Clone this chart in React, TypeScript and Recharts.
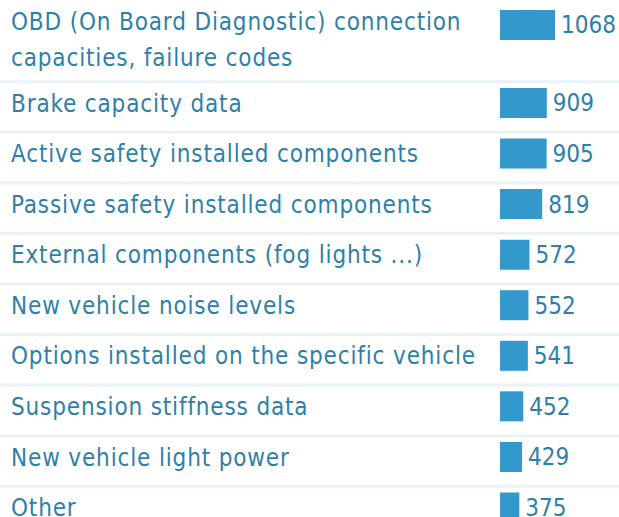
import React from "react";
import { BarChart, Bar, XAxis, YAxis, LabelList } from "recharts";

const categories = [
  "OBD (On Board Diagnostic) connection capacities, failure codes",
  "Brake capacity data",
  "Active safety installed components",
  "Passive safety installed components",
  "External components (fog lights ...)",
  "New vehicle noise levels",
  "Options installed on the specific vehicle",
  "Suspension stiffness data",
  "New vehicle light power",
  "Other",
];
const counts = [1068, 909, 905, 819, 572, 552, 541, 452, 429, 375];

const rows = categories.map((name, i) => ({ name, value: counts[i] }));
const firstRows = rows.slice(0, 1);
const otherRows = rows.slice(1);

const W = 619;
const FONT = "'DejaVu Sans Condensed', 'DejaVu Sans', sans-serif";
const TEXT = "#2e7fa9";
const BAR = "#3399cc";
const SEP = "#eaf2f8";
const FS = 24;
const LS = 0.85;
const DOMAIN: [number, number] = [0, 2310];

const textStyle: React.CSSProperties = { fontStretch: "condensed" };

function wrap(s: string, max: number): string[] {
  const words = s.split(" ");
  const lines: string[] = [];
  let cur = "";
  for (const w of words) {
    const t = cur ? cur + " " + w : w;
    if (t.length > max && cur) {
      lines.push(cur);
      cur = w;
    } else cur = t;
  }
  if (cur) lines.push(cur);
  return lines;
}

const FirstTick = (props: any) => {
  const { y, payload } = props;
  const lines = wrap(String(payload.value), 37);
  return (
    <g>
      {lines.map((l, i) => (
        <text key={i} x={11} y={y - 3 + i * 36} dy="0.35em" fill={TEXT} fontSize={FS} fontFamily={FONT} letterSpacing={LS} style={textStyle}>
          {l}
        </text>
      ))}
    </g>
  );
};

const RowTick = (props: any) => {
  const { y, payload } = props;
  return (
    <g>
      <line x1={0} x2={W} y1={y - 21.5} y2={y - 21.5} stroke={SEP} strokeWidth={3} />
      <text x={11} y={y} dy="0.35em" fill={TEXT} fontSize={FS} fontFamily={FONT} letterSpacing={LS} style={textStyle}>
        {payload.value}
      </text>
    </g>
  );
};

const ValueLabel = (props: any) => {
  const { x, y, width, height, value } = props;
  return (
    <text x={x + width + 6} y={y + height / 2} dy="0.35em" fill={TEXT} fontSize={FS} fontFamily={FONT} letterSpacing={0} style={textStyle}>
      {value}
    </text>
  );
};

export default function App() {
  return (
    <div style={{ position: "absolute", left: 0, top: 0, width: W, height: 517, overflow: "hidden", background: "#fff" }}>
      <div style={{ position: "absolute", left: 0, top: 0 }}>
        <BarChart width={W} height={78} data={firstRows} layout="vertical" margin={{ top: 0, right: 0, bottom: 28, left: 0 }} barCategoryGap={0}>
          <XAxis type="number" domain={DOMAIN} hide />
          <YAxis type="category" dataKey="name" width={500} axisLine={false} tickLine={false} tick={<FirstTick />} interval={0} />
          <Bar dataKey="value" fill={BAR} barSize={30} isAnimationActive={false}>
            <LabelList dataKey="value" content={<ValueLabel />} />
          </Bar>
        </BarChart>
      </div>
      <div style={{ position: "absolute", left: 0, top: 78 }}>
        <BarChart width={W} height={455} data={otherRows} layout="vertical" margin={{ top: 0, right: 0, bottom: 0, left: 0 }} barCategoryGap={0}>
          <XAxis type="number" domain={DOMAIN} hide />
          <YAxis type="category" dataKey="name" width={500} axisLine={false} tickLine={false} tick={<RowTick />} interval={0} />
          <Bar dataKey="value" fill={BAR} barSize={30} isAnimationActive={false}>
            <LabelList dataKey="value" content={<ValueLabel />} />
          </Bar>
        </BarChart>
      </div>
    </div>
  );
}
